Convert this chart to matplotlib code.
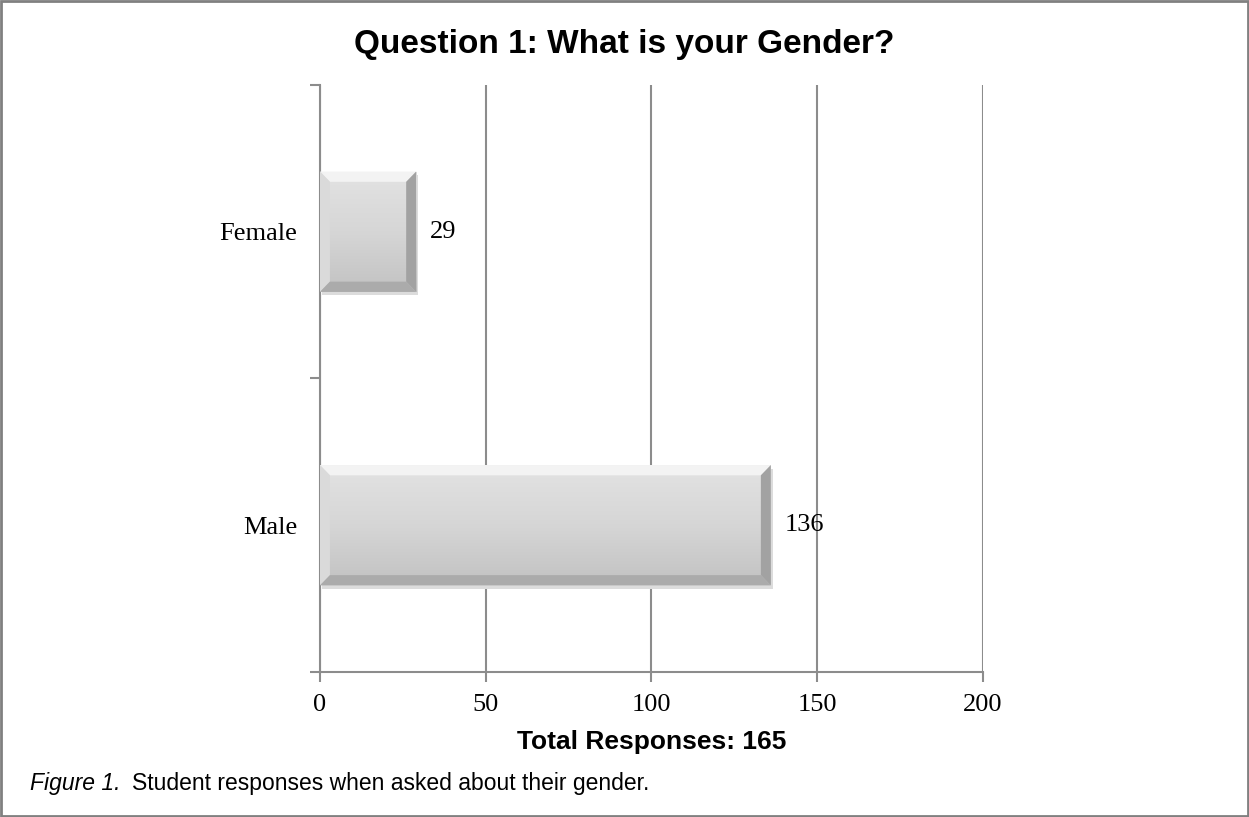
import numpy as np
import matplotlib.pyplot as plt
from matplotlib.colors import LinearSegmentedColormap
from matplotlib.patches import Rectangle, Polygon
from matplotlib.ticker import FixedLocator

# ---- data ----
categories = ["Male", "Female"]
responses = [136, 29]
x_ticks = [0, 50, 100, 150, 200]
title = "Question 1: What is your Gender?"
xlabel = "Total Responses: 165"

SERIF = "Liberation Serif"
SANS = "Liberation Sans"
GRID_C = "#8c8c8c"

fig = plt.figure(figsize=(12.49, 8.17), dpi=100)
ax = fig.add_axes([0.2562, 0.1775, 0.5308, 0.7185])

ypos = np.arange(len(categories))
bars = ax.barh(ypos, responses, height=0.41, color="none", edgecolor="none", zorder=3)

ax.set_xlim(0, 200)
ax.set_ylim(-0.5, len(categories) - 0.5)

# bevelled grey bars: gradient body + light/dark edges + soft shadow
grad = np.linspace(0, 1, 256).reshape(-1, 1)
body_cmap = LinearSegmentedColormap.from_list("g", ["#c2c2c2", "#d6d6d6", "#e3e3e3"])
for b in bars:
    x0, y0 = b.get_x(), b.get_y()
    w, h = b.get_width(), b.get_height()
    x1, y1 = x0 + w, y0 + h
    bx = 3.0      # bevel width in data units (x)
    by = 0.035    # bevel width in data units (y)
    # shadow
    ax.add_patch(Rectangle((x0 + 0.6, y0 - 0.012), w, h, color="#dcdcdc",
                           zorder=2, lw=0))
    img = ax.imshow(grad, extent=(x0, x1, y0, y1), origin="lower",
                    cmap=body_cmap, aspect="auto", zorder=3)
    img.set_clip_path(Rectangle((x0, y0), w, h, transform=ax.transData))
    ax.add_patch(Polygon([(x0, y1), (x1, y1), (x1 - bx, y1 - by), (x0 + bx, y1 - by)],
                         closed=True, color="#f3f3f3", lw=0, zorder=4))
    ax.add_patch(Polygon([(x0, y0), (x0, y1), (x0 + bx, y1 - by), (x0 + bx, y0 + by)],
                         closed=True, color="#dadada", lw=0, zorder=4))
    ax.add_patch(Polygon([(x1, y0), (x1, y1), (x1 - bx, y1 - by), (x1 - bx, y0 + by)],
                         closed=True, color="#a2a2a2", lw=0, zorder=4))
    ax.add_patch(Polygon([(x0, y0), (x1, y0), (x1 - bx, y0 + by), (x0 + bx, y0 + by)],
                         closed=True, color="#ababab", lw=0, zorder=4))
    ax.annotate(f"{int(w)}", xy=(x1, (y0 + y1) / 2), xytext=(10, 0),
                textcoords="offset points", va="center", ha="left",
                fontsize=19, family=SERIF, zorder=6)

# axes styling
ax.set_xticks(x_ticks)
ax.set_xticklabels([str(t) for t in x_ticks], family=SERIF, fontsize=19)
ax.set_yticks(ypos)
ax.set_yticklabels(categories, family=SERIF, fontsize=19)
ax.yaxis.set_minor_locator(FixedLocator([-0.5, 0.5, 1.5]))
ax.tick_params(axis="y", which="major", length=0, pad=16.5)
ax.tick_params(axis="y", which="minor", length=7, width=1.5, color=GRID_C)
ax.tick_params(axis="x", which="major", length=7, width=1.5, color=GRID_C, pad=9)
ax.xaxis.grid(True, color=GRID_C, linewidth=1.5, zorder=0)
ax.set_axisbelow(True)
for s in ["top", "right"]:
    ax.spines[s].set_visible(False)
for s in ["left", "bottom"]:
    ax.spines[s].set_color(GRID_C)
    ax.spines[s].set_linewidth(1.5)

ax.set_xlabel(xlabel, family=SANS, fontsize=19, fontweight="bold", labelpad=10)

fig.text(0.5, 0.945, title, ha="center", va="center", family=SANS,
         fontsize=24, fontweight="bold")

fig.text(0.024, 0.041, "Figure 1.", ha="left", va="center", family=SANS,
         fontsize=16.5, style="italic")
fig.text(0.1057, 0.041, "Student responses when asked about their gender.",
         ha="left", va="center", family=SANS, fontsize=16.5)

# outer frame
fig.add_artist(Rectangle((0.001, 0.001), 0.998, 0.998, transform=fig.transFigure,
                         fill=False, edgecolor="#808080", linewidth=2))

fig.savefig("out.png", dpi=100)
